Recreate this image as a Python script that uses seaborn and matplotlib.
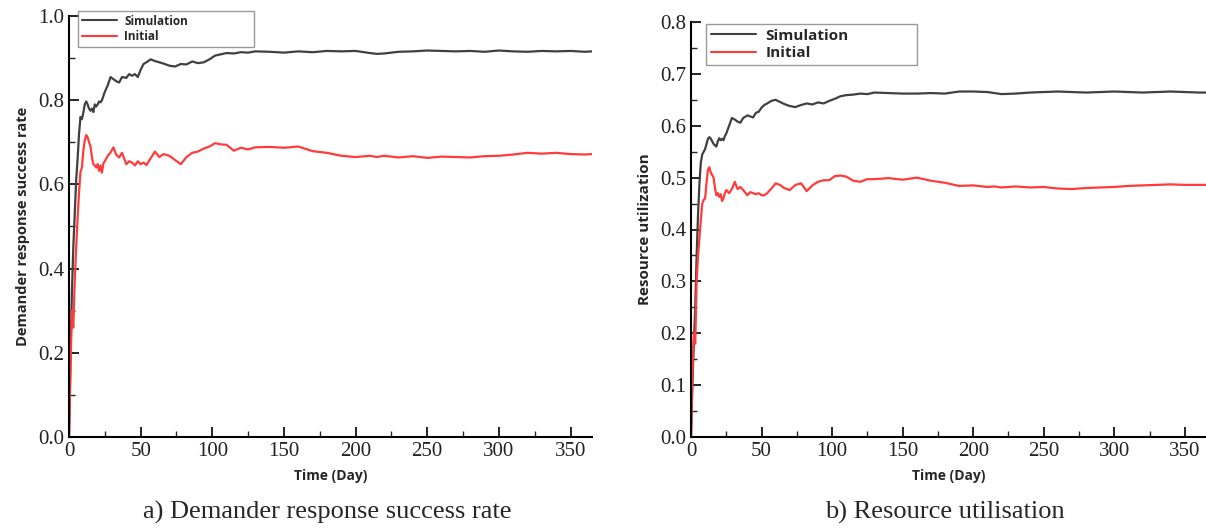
import matplotlib
matplotlib.use("Agg")
import matplotlib.pyplot as plt
import seaborn as sns
import pandas as pd
from matplotlib.ticker import MultipleLocator, FormatStrFormatter
from matplotlib.lines import Line2D
from matplotlib.font_manager import FontProperties

# sample days shared by all four series
days = [0, 1, 2, 3, 4, 5, 6, 7, 8, 9, 10, 11, 12, 13, 14, 15, 16, 17, 18, 19,
        20, 21, 22, 23, 24, 25, 27, 29, 31, 33, 35, 37, 40, 42, 44, 46, 48, 50,
        52, 54, 57, 60, 63, 66, 70, 74, 78, 82, 86, 90, 94, 98, 102, 106, 110,
        115, 120, 125, 130, 140, 150, 160, 170, 180, 190, 200, 210, 215, 220,
        230, 240, 250, 260, 270, 280, 290, 300, 310, 320, 330, 340, 350, 360, 365]

# a) Demander response success rate
success_sim = [0, 0.18, 0.34, 0.45, 0.53, 0.61, 0.66, 0.72, 0.76, 0.755, 0.77,
               0.79, 0.797, 0.79, 0.78, 0.775, 0.78, 0.772, 0.79, 0.785, 0.79,
               0.797, 0.795, 0.80, 0.81, 0.82, 0.835, 0.855, 0.85, 0.845, 0.842,
               0.855, 0.853, 0.862, 0.858, 0.862, 0.855, 0.872, 0.886, 0.89,
               0.897, 0.893, 0.89, 0.887, 0.882, 0.88, 0.886, 0.885, 0.892,
               0.888, 0.89, 0.897, 0.906, 0.909, 0.912, 0.911, 0.914, 0.913,
               0.916, 0.915, 0.913, 0.916, 0.914, 0.917, 0.916, 0.917, 0.912,
               0.91, 0.911, 0.915, 0.916, 0.918, 0.917, 0.916, 0.917, 0.915,
               0.918, 0.916, 0.915, 0.917, 0.916, 0.917, 0.915, 0.916]
success_init = [0, 0.15, 0.30, 0.26, 0.37, 0.45, 0.52, 0.58, 0.63, 0.64, 0.68,
                0.705, 0.717, 0.712, 0.70, 0.69, 0.665, 0.648, 0.645, 0.64,
                0.648, 0.632, 0.645, 0.628, 0.65, 0.655, 0.668, 0.676, 0.688,
                0.67, 0.664, 0.675, 0.648, 0.655, 0.652, 0.645, 0.655, 0.648,
                0.652, 0.646, 0.662, 0.678, 0.665, 0.672, 0.668, 0.658, 0.648,
                0.665, 0.675, 0.678, 0.685, 0.69, 0.698, 0.695, 0.694, 0.68,
                0.687, 0.683, 0.688, 0.689, 0.687, 0.69, 0.679, 0.675, 0.668,
                0.665, 0.668, 0.665, 0.668, 0.664, 0.667, 0.663, 0.666, 0.665,
                0.664, 0.667, 0.668, 0.671, 0.675, 0.673, 0.675, 0.672, 0.671,
                0.672]

# b) Resource utilisation
util_sim = [0, 0.10, 0.18, 0.25, 0.35, 0.43, 0.49, 0.53, 0.545, 0.55, 0.555,
            0.565, 0.575, 0.578, 0.575, 0.57, 0.565, 0.562, 0.56, 0.57, 0.576,
            0.572, 0.575, 0.572, 0.58, 0.585, 0.60, 0.615, 0.612, 0.608, 0.606,
            0.615, 0.62, 0.618, 0.616, 0.625, 0.627, 0.635, 0.64, 0.643, 0.648,
            0.65, 0.646, 0.642, 0.638, 0.636, 0.64, 0.643, 0.641, 0.645, 0.643,
            0.648, 0.652, 0.657, 0.659, 0.66, 0.662, 0.661, 0.664, 0.663, 0.662,
            0.662, 0.663, 0.662, 0.666, 0.666, 0.665, 0.663, 0.661, 0.662,
            0.664, 0.665, 0.666, 0.665, 0.664, 0.665, 0.666, 0.665, 0.664,
            0.665, 0.666, 0.665, 0.664, 0.664]
util_init = [0, 0.12, 0.20, 0.18, 0.30, 0.35, 0.385, 0.42, 0.45, 0.457, 0.46,
             0.49, 0.515, 0.52, 0.51, 0.505, 0.50, 0.48, 0.466, 0.47, 0.463,
             0.468, 0.455, 0.46, 0.47, 0.476, 0.47, 0.478, 0.492, 0.478, 0.482,
             0.476, 0.466, 0.472, 0.47, 0.468, 0.47, 0.466, 0.466, 0.47, 0.479,
             0.489, 0.486, 0.48, 0.476, 0.486, 0.489, 0.474, 0.485, 0.492,
             0.495, 0.495, 0.503, 0.504, 0.502, 0.494, 0.492, 0.497, 0.497,
             0.499, 0.496, 0.50, 0.494, 0.49, 0.484, 0.485, 0.482, 0.483, 0.481,
             0.483, 0.481, 0.482, 0.479, 0.478, 0.48, 0.481, 0.482, 0.484,
             0.485, 0.486, 0.487, 0.486, 0.486, 0.486]

series_names = ["Simulation", "Initial"]
colors = {"Simulation": "#404040", "Initial": "#ff3b3b"}


def long_df(sim, init):
    return pd.DataFrame({
        "Day": days + days,
        "Value": sim + init,
        "Series": ["Simulation"] * len(days) + ["Initial"] * len(days),
    })


sns.set_style("white")
serif = ["Liberation Serif", "DejaVu Serif"]
sans = ["Open Sans", "DejaVu Sans"]
plt.rcParams["font.family"] = "serif"
plt.rcParams["font.serif"] = serif
tick_font = FontProperties(family=serif, size=15)

fig = plt.figure(figsize=(12.06, 5.28), dpi=100)
ax_a = fig.add_axes([69 / 1206, 1 - 437 / 528, 523 / 1206, 421 / 528])
ax_b = fig.add_axes([691 / 1206, 1 - 437 / 528, 515 / 1206, 415 / 528])

panels = [
    (ax_a, long_df(success_sim, success_init), 1.0, 0.2, 0.1,
     "Demander response success rate", 10.5, "a) Demander response success rate",
     (78 / 1206, 1 - 49 / 528, 176 / 1206, 38 / 528), 8.5),
    (ax_b, long_df(util_sim, util_init), 0.8, 0.1, 0.05,
     "Resource utilization", 11, "b) Resource utilisation",
     (706 / 1206, 1 - 72 / 528, 211 / 1206, 48 / 528), 11),
]

for ax, df, ymax, major, minor, ylabel, ylsize, caption, leg_box, leg_size in panels:
    sns.lineplot(data=df, x="Day", y="Value", hue="Series",
                 hue_order=series_names, palette=colors, linewidth=1.6,
                 legend=False, ax=ax)
    ax.set_xlim(0, 365)
    ax.set_ylim(0, ymax)
    ax.xaxis.set_major_locator(MultipleLocator(50))
    ax.xaxis.set_minor_locator(MultipleLocator(25))
    ax.yaxis.set_major_locator(MultipleLocator(major))
    ax.yaxis.set_minor_locator(MultipleLocator(minor))
    ax.yaxis.set_major_formatter(FormatStrFormatter("%.1f"))
    ax.tick_params(which="major", direction="in", length=7, width=1.2,
                   labelsize=15, colors="black", labelcolor="#222222")
    ax.tick_params(which="minor", direction="in", length=4, width=1.0)
    ax.tick_params(bottom=True, left=True, which="both")
    for side in ["top", "right"]:
        ax.spines[side].set_visible(False)
    for side in ["left", "bottom"]:
        ax.spines[side].set_linewidth(1.5)
        ax.spines[side].set_color("black")

    ax.set_xlabel("Time (Day)", fontsize=10, fontweight="bold", family=sans,
                  labelpad=6)
    ax.set_ylabel(ylabel, fontsize=ylsize, fontweight="bold", family=sans,
                  labelpad=6)

    handles = [Line2D([0], [0], color=colors[s], linewidth=1.5)
               for s in series_names]
    leg = ax.legend(handles, series_names, loc="upper left", mode="expand",
                    bbox_to_anchor=leg_box, bbox_transform=fig.transFigure,
                    frameon=True, fancybox=False, handlelength=3.0,
                    handletextpad=0.6, borderpad=0.3, labelspacing=0.25,
                    borderaxespad=0,
                    prop={"family": sans, "weight": "bold", "size": leg_size})
    leg.get_frame().set_edgecolor("#808080")
    leg.get_frame().set_linewidth(1.0)

    pos = ax.get_position()
    fig.text((pos.x0 + pos.x1) / 2 - 0.003, 1 - 512 / 528, caption,
             ha="center", va="center", fontsize=19, family=serif)

# force serif tick labels once the ticks exist
fig.canvas.draw()
for ax in (ax_a, ax_b):
    for axis in (ax.xaxis, ax.yaxis):
        for tick in axis.get_major_ticks():
            tick.label1.set_fontproperties(tick_font)

fig.savefig("out.png", dpi=100)
